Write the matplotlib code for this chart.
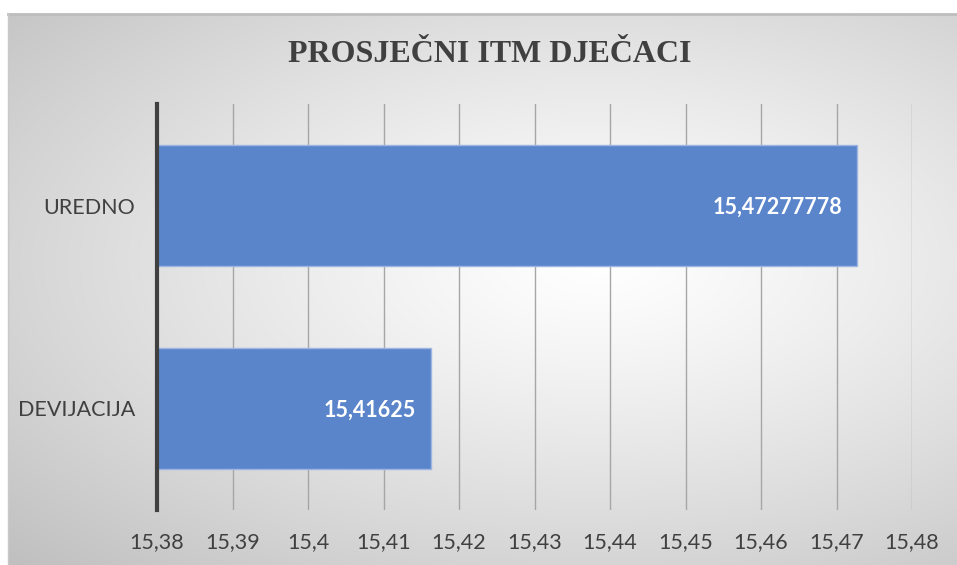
import matplotlib.pyplot as plt
import numpy as np

# values
categories = ['DEVIJACIJA', 'UREDNO']
values = [15.41625, 15.47277778]
value_labels = ['15,41625', '15,47277778']
x_ticks = [15.38, 15.39, 15.40, 15.41, 15.42, 15.43, 15.44, 15.45, 15.46, 15.47, 15.48]
title = 'PROSJEČNI ITM DJEČACI'

W, H = 957, 565
fig = plt.figure(figsize=(W / 100, H / 100), dpi=100)
fig.patch.set_facecolor('white')

# chart frame with radial gradient background
bg = fig.add_axes([8 / W, 0, (W - 8) / W, (H - 14) / H])
ny, nx = 300, 500
yy, xx = np.mgrid[0:ny, 0:nx]
cx, cy = 0.62 * nx, 0.55 * ny
r = np.sqrt(((xx - cx) / (0.62 * nx)) ** 2 + ((yy - cy) / (0.55 * ny)) ** 2) / np.sqrt(2)
shade = np.clip(1.0 - 0.25 * r ** 1.2, 0, 1)
bg.imshow(np.dstack([shade] * 3), aspect='auto', extent=[0, 1, 0, 1], origin='lower')
bg.set_axis_off()
fig.add_artist(plt.Line2D([8 / W, 1], [1 - 14 / H, 1 - 14 / H], color='#bdbdbd', lw=2,
                          transform=fig.transFigure))
fig.add_artist(plt.Line2D([8 / W, 8 / W], [0, 1 - 14 / H], color='#c9c9c9', lw=1,
                          transform=fig.transFigure))

ax = fig.add_axes([157 / W, 55 / H, (912 - 157) / W, (510 - 104) / H])
ax.patch.set_alpha(0)

y = np.arange(len(categories))
bars = ax.barh(y, [v - x_ticks[0] for v in values], left=x_ticks[0], height=0.6,
               color='#5b85cb', edgecolor='#9db5e0', linewidth=1, zorder=3)

for b, lab in zip(bars, value_labels):
    ax.annotate(lab, (b.get_x() + b.get_width(), b.get_y() + b.get_height() / 2),
                xytext=(-11, -1), textcoords='offset points', ha='right', va='center',
                color='white', fontsize=15.5, fontweight='bold', family='Lato', zorder=4)

ax.set_xlim(x_ticks[0], x_ticks[-1])
ax.set_ylim(-0.5, 1.5)
ax.set_xticks(x_ticks)
ax.set_xticklabels([f'{round(t, 2):g}'.replace('.', ',') for t in x_ticks],
                   family='Lato', fontsize=15.5, color='#404040')
ax.set_yticks(y)
ax.set_yticklabels(categories, family='Lato', fontsize=15.5, color='#404040')
ax.tick_params(axis='x', length=0, pad=16)
ax.tick_params(axis='y', length=0, pad=16)
ax.grid(axis='x', color='#a6a6a6', lw=1, zorder=1)
for s in ['top', 'right', 'bottom']:
    ax.spines[s].set_visible(False)
ax.spines['left'].set_color('#404040')
ax.spines['left'].set_linewidth(3)
ax.spines['left'].set_zorder(5)

fig.text(490 / W, 1 - 54 / H, title, ha='center', va='center', family='Liberation Serif',
         fontweight='bold', fontsize=23, color='#404040')

fig.savefig('out.png', dpi=100)
